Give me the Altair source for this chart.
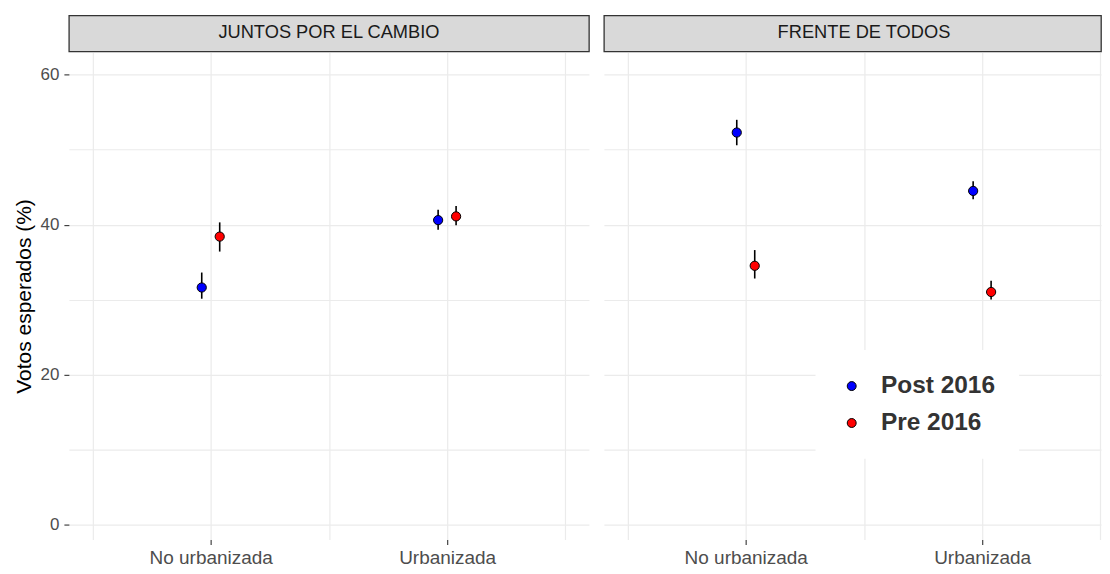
import altair as alt
import pandas as pd

PARTIES = ["JUNTOS POR EL CAMBIO", "FRENTE DE TODOS"]
ZONES = ["No urbanizada", "Urbanizada"]
PERIODS = ["Post 2016", "Pre 2016"]
COLORS = ["#0000FF", "#FF0000"]

# order of values: (No urbanizada, Post), (No urbanizada, Pre), (Urbanizada, Post), (Urbanizada, Pre)
JXC_EST = [31.6, 38.4, 40.6, 41.1]
JXC_LO = [30.1, 36.4, 39.3, 39.9]
JXC_HI = [33.6, 40.3, 42.0, 42.5]
FDT_EST = [52.3, 34.5, 44.5, 31.0]
FDT_LO = [50.6, 32.8, 43.4, 30.0]
FDT_HI = [54.0, 36.6, 45.8, 32.5]

DODGE = 0.038
W1 = 521
W2 = 498
PX_PER_UNIT = W1 / 2.2
H = 488
PX_PER_Y = 7.5
STRIP_H = 36
FONT = "Liberation Sans"

rows = []
for party, est, lo, hi in [(PARTIES[0], JXC_EST, JXC_LO, JXC_HI), (PARTIES[1], FDT_EST, FDT_LO, FDT_HI)]:
    k = 0
    for zi, zone in enumerate(ZONES):
        for pi, period in enumerate(PERIODS):
            rows.append({
                "party": party, "zone": zone, "period": period,
                "est": est[k], "lo": lo[k], "hi": hi[k],
                "xpos": zi + 1 + (-DODGE if pi == 0 else DODGE),
            })
            k += 1
df = pd.DataFrame(rows)

minor_cond = {"condition": {"test": "datum.value % 20 === 0", "value": 1}, "value": 0}
minor_cond_x = {"condition": {"test": "datum.value % 1 === 0", "value": 1}, "value": 0}

xaxis = alt.Axis(
    values=[0.5, 1, 1.5, 2, 2.5],
    labelExpr="datum.value == 1 ? 'No urbanizada' : (datum.value == 2 ? 'Urbanizada' : '')",
    title=None, domain=False, grid=True, gridColor="#ebebeb", gridWidth=1.2,
    ticks=True, tickSize=5, tickColor="#333333", tickWidth=1.1, tickOpacity=minor_cond_x,
    labelFontSize=19, labelColor="#4d4d4d", labelPadding=4, labelFont=FONT,
    labelFlush=False, labelOverlap=False,
)


def yaxis(show):
    if show:
        return alt.Axis(
            values=[0, 10, 20, 30, 40, 50, 60],
            labelExpr="datum.value % 20 === 0 ? datum.label : ''",
            title="Votos esperados (%)", titleFont=FONT, titleFontSize=21,
            titleFontWeight="normal", titleColor="#000000", titlePadding=6,
            domain=False, grid=True, gridColor="#ebebeb", gridWidth=1.2,
            ticks=True, tickSize=5, tickColor="#333333", tickWidth=1.1, tickOpacity=minor_cond,
            labelFontSize=17, labelColor="#4d4d4d", labelPadding=5, labelFont=FONT,
            labelFlush=False, labelOverlap=False,
        )
    return alt.Axis(
        values=[0, 10, 20, 30, 40, 50, 60], title=None, labels=False, ticks=False,
        domain=False, grid=True, gridColor="#ebebeb", gridWidth=1.2,
    )


def panel(i, width, show_y, show_legend):
    d = df[df["party"] == PARTIES[i]]
    base = alt.Chart(d)
    x = alt.X("xpos:Q",
              scale=alt.Scale(domain=[0.4, 0.4 + width / PX_PER_UNIT], nice=False, zero=False),
              axis=xaxis)
    yscale = alt.Scale(domain=[63 - H / PX_PER_Y, 63], nice=False, zero=False)
    if show_legend:
        legend = alt.Legend(
            title=None, orient="none", legendX=212, legendY=335,
            fillColor="white", padding=24, symbolType="circle", symbolSize=80,
            symbolStrokeColor="black", symbolStrokeWidth=1,
            labelFontSize=24.5, labelFontWeight="bold", labelColor="#333333",
            labelFont=FONT, labelOffset=17, rowPadding=12,
        )
    else:
        legend = None
    fill = alt.Fill("period:N", scale=alt.Scale(domain=PERIODS, range=COLORS), legend=legend)
    rules = base.mark_rule(color="black", strokeWidth=1.6).encode(
        x=x,
        y=alt.Y("lo:Q", scale=yscale, axis=yaxis(show_y)),
        y2="hi:Q",
    )
    pts = base.mark_point(filled=True, shape="circle", size=85, stroke="black",
                          strokeWidth=1, opacity=1).encode(
        x=x,
        y=alt.Y("est:Q", scale=yscale, axis=yaxis(show_y)),
        fill=fill,
    )
    return alt.layer(rules, pts).properties(width=width, height=H)


def strip(i, width):
    return alt.Chart(pd.DataFrame({"party": [PARTIES[i]]})).mark_text(
        fontSize=18.3, font=FONT, color="#1a1a1a"
    ).encode(
        text="party:N", x=alt.value(W1 / 2), y=alt.value(STRIP_H / 2)
    ).properties(
        width=width, height=STRIP_H,
        view=alt.ViewBackground(fill="#d9d9d9", stroke="#333333", strokeWidth=1.3),
    )


left = alt.vconcat(strip(0, W1), panel(0, W1, True, False), spacing=0)
right = alt.vconcat(strip(1, W2), panel(1, W2, False, True), spacing=0)

chart = alt.hconcat(left, right, spacing=13).resolve_legend(fill="independent").resolve_scale(
    fill="independent"
).properties(
    padding={"left": 5, "top": 6, "right": 0, "bottom": 0},
    background="white",
).configure_view(strokeWidth=0)

chart.save("out.html", embed_options={"renderer": "svg", "actions": False})
